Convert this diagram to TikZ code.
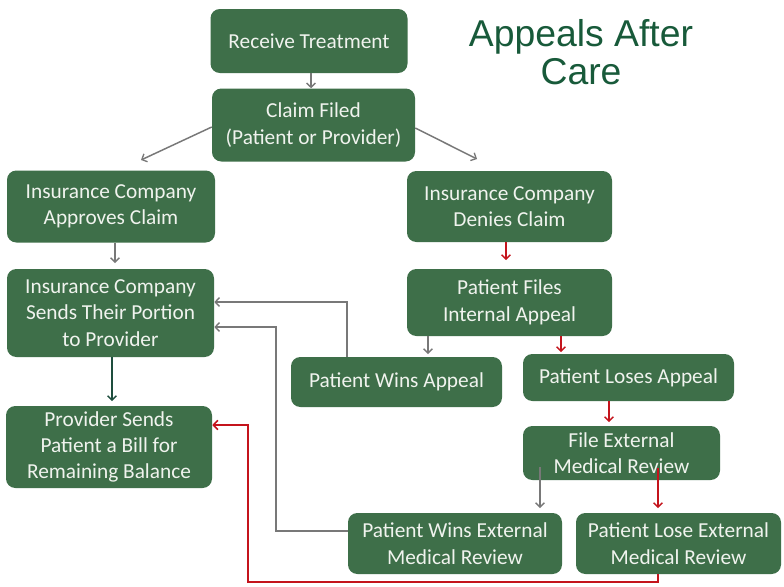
\documentclass[tikz,border=0pt]{standalone}
\usepackage{fontspec}
\setmainfont{Carlito}
\newfontfamily\titlefont{Liberation Sans}
\usetikzlibrary{arrows.meta}
\definecolor{boxgreen}{RGB}{62,111,73}
\definecolor{boxtext}{RGB}{240,243,238}
\definecolor{titlegreen}{RGB}{24,90,58}
\definecolor{linegray}{RGB}{120,120,120}
\definecolor{linered}{RGB}{196,20,28}
\definecolor{linedark}{RGB}{30,78,62}
\tikzset{
  flowbox/.style={rounded corners=7pt, fill=boxgreen, text=boxtext, align=center,
    inner sep=0pt, font=\fontsize{16}{19.8}\selectfont},
  bsize/.style 2 args={minimum width=#1*0.75pt, minimum height=#2*0.75pt},
  tip/.style={-{Straight Barb[length=3.2pt,width=6.5pt,line width=1pt]}},
  grayline/.style={draw=linegray, line width=1.1pt, tip},
  redline/.style={draw=linered, line width=1.3pt, tip},
  darkline/.style={draw=linedark, line width=1.2pt, tip},
}
\begin{document}
\begin{tikzpicture}[x=0.75pt,y=-0.75pt]
\useasboundingbox[fill=white] (0,0) rectangle (784,586);
\node[flowbox, bsize={197}{64}] (rt) at (309,41) {Receive Treatment};
\node[flowbox, bsize={203}{73}] (cf) at (313.5,125) {Claim Filed\\(Patient or Provider)};
\node[flowbox, bsize={208}{72}] (ap) at (111,206.5) {Insurance Company\\Approves Claim};
\node[flowbox, bsize={205}{71}] (dn) at (509.5,206.5) {Insurance Company\\Denies Claim};
\node[flowbox, bsize={207}{88}] (se) at (110.5,313) {Insurance Company\\Sends Their Portion\\to Provider};
\node[flowbox, bsize={205}{67}] (fi) at (509.5,302.5) {Patient Files\\Internal Appeal};
\node[flowbox, bsize={211}{50}] (wa) at (396.5,382) {Patient Wins Appeal};
\node[flowbox, bsize={211}{47}] (la) at (628.5,377.5) {Patient Loses Appeal};
\node[flowbox, bsize={206}{82}] (pr) at (109,447) {Provider Sends\\Patient a Bill for\\Remaining Balance};
\node[flowbox, bsize={197}{54}] (fe) at (621.5,453) {File External\\Medical Review};
\node[flowbox, bsize={214}{61}] (we) at (455,543.5) {Patient Wins External\\Medical Review};
\node[flowbox, bsize={205}{61}] (le) at (678.5,543.5) {Patient Lose External\\Medical Review};
\node[font=\titlefont\fontsize{28}{28}\selectfont, text=titlegreen, align=center] (title) at (581,52) {Appeals After\\Care};
% connectors
\draw[grayline] (rt.south -| 311,0) -- (cf.north -| 311,0);
\draw[grayline] (cf.west |- 0,127) -- (141,160);
\draw[grayline] (cf.east |- 0,128) -- (477,159);
\draw[grayline] (ap.south -| 115,0) -- (115,263);
\draw[redline] (dn.south -| 506,0) -- (506,260);
\draw[grayline] (fi.south -| 428,0) -- (428,354);
\draw[redline] (fi.south -| 561,0) -- (561,352);
\draw[grayline] (wa.north -| 347,0) |- (se.east |- 0,302);
\draw[grayline] (we.west |- 0,531) -| (276,327) -- (se.east |- 0,327);
\draw[darkline] (se.south -| 112,0) -- (112,401);
\draw[redline] (la.south -| 609,0) -- (609,422);
\draw[grayline] (540,467) -- (540,508);
\draw[redline] (658,468) -- (658,508);
\draw[draw=linered, line width=1.5pt, -{Straight Barb[length=3.4pt,width=7pt,line width=1.2pt]}] (le.south -| 658,0) -- (658,582) -| (248,425) -- (pr.east |- 0,425);
\end{tikzpicture}
\end{document}
